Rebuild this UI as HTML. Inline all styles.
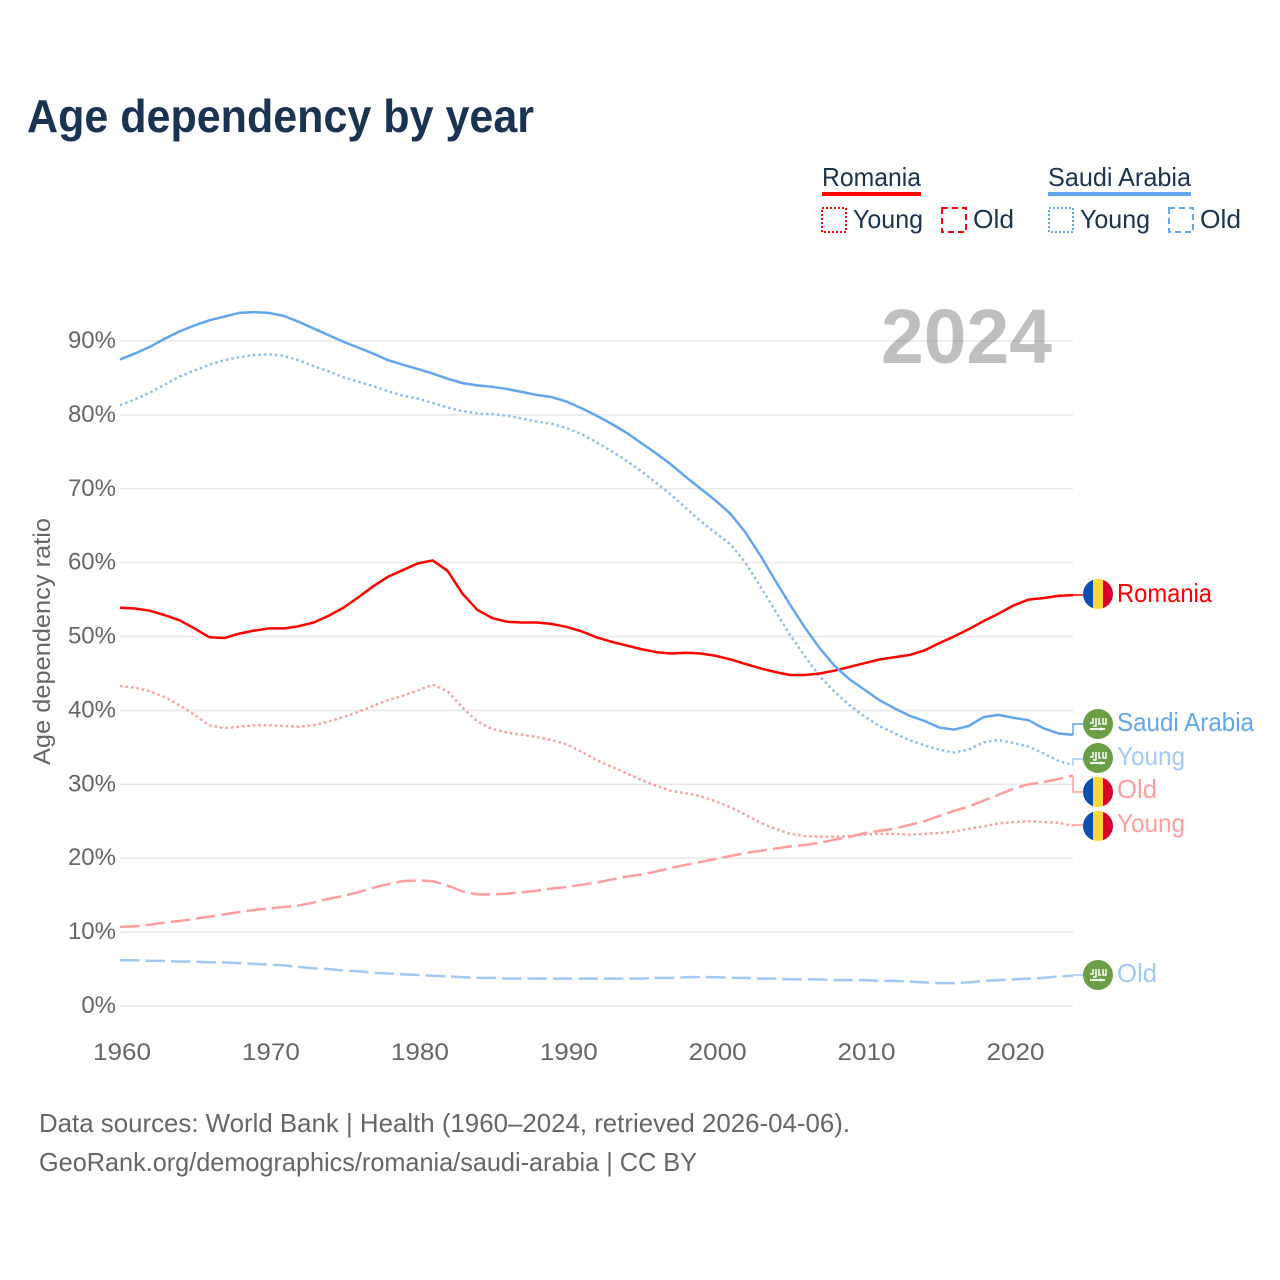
<!DOCTYPE html>
<html lang="en">
<head>
<meta charset="utf-8">
<title>Age dependency by year</title>
<style>
html,body{margin:0;padding:0;background:#fff;}
svg{display:block;}
text{font-family:"Liberation Sans",sans-serif;}
</style>
</head>
<body>
<svg id="chart" xmlns="http://www.w3.org/2000/svg" width="1280" height="1280" viewBox="0 0 1280 1280">
  <rect width="1280" height="1280" fill="#fff"/>
  <text x="27" y="132" font-size="46" font-weight="700" fill="#1a3352" textLength="507" lengthAdjust="spacingAndGlyphs">Age dependency by year</text>

  <g font-size="26" fill="#1a3352">
    <text x="822" y="186" textLength="99" lengthAdjust="spacingAndGlyphs">Romania</text>
    <rect x="822" y="192" width="99" height="4" fill="#ff0000"/>
    <rect x="822" y="208" width="24" height="24" fill="none" stroke="#ff0000" stroke-width="2" stroke-dasharray="2 2"/>
    <text x="853" y="228" textLength="70" lengthAdjust="spacingAndGlyphs">Young</text>
    <rect x="942" y="208" width="24" height="24" fill="none" stroke="#ff0000" stroke-width="2" stroke-dasharray="6 4"/>
    <text x="973" y="228" textLength="41" lengthAdjust="spacingAndGlyphs">Old</text>

    <text x="1048" y="186" textLength="143" lengthAdjust="spacingAndGlyphs">Saudi Arabia</text>
    <rect x="1048" y="192" width="143" height="4" fill="#62a6ee"/>
    <rect x="1049" y="208" width="24" height="24" fill="none" stroke="#62a6ee" stroke-width="2" stroke-dasharray="2 2"/>
    <text x="1080" y="228" textLength="70" lengthAdjust="spacingAndGlyphs">Young</text>
    <rect x="1169" y="208" width="24" height="24" fill="none" stroke="#62a6ee" stroke-width="2" stroke-dasharray="6 4"/>
    <text x="1200" y="228" textLength="41" lengthAdjust="spacingAndGlyphs">Old</text>
  </g>

  <g id="grid"></g>
  <text x="881" y="363" font-size="77" font-weight="700" fill="#808080" fill-opacity="0.5" textLength="171" lengthAdjust="spacingAndGlyphs">2024</text>
  <g id="yticks" font-size="24" fill="#666"></g>
  <g id="xticks" font-size="24" fill="#666"></g>
  <text transform="translate(50,765) rotate(-90)" font-size="24" fill="#666" textLength="247" lengthAdjust="spacingAndGlyphs">Age dependency ratio</text>
  <g id="lines" fill="none"></g>

  <g fill="none" stroke-width="1.5">
    <path d="M1073 595H1083" stroke="#ff0000"/>
    <path d="M1073 735V724H1083" stroke="#62a6ee"/>
    <path d="M1073 765V759H1083" stroke="#a1c9f4"/>
    <path d="M1073 776V792H1083" stroke="#ff9e9e"/>
    <path d="M1073 825H1083" stroke="#ff9e9e"/>
    <path d="M1073 975H1083" stroke="#a1c9f4"/>
  </g>

  <defs>
    <clipPath id="flag-clip"><circle cx="0" cy="0" r="15"/></clipPath>
    <g id="ro-flag">
      <g clip-path="url(#flag-clip)">
        <rect x="-15" y="-15" width="10" height="30" fill="#0a4fb3"/>
        <rect x="-5" y="-15" width="10" height="30" fill="#ffd53a"/>
        <rect x="5" y="-15" width="10" height="30" fill="#d9002c"/>
      </g>
    </g>
    <g id="sa-flag">
      <circle r="15" fill="#6b9f45"/>
      <g fill="none" stroke="#fff" stroke-width="1.5">
        <path d="M-8 -1H-5V-6M-2 -6V2H-5M1 -6V0H3M5 -6V0H8V-6"/>
        <path d="M-8 5H7" stroke-width="1.8"/>
        <path d="M3 3.5V6.5"/>
      </g>
    </g>
  </defs>

  <g font-size="26">
    <use href="#ro-flag" x="1098" y="594"/>
    <text x="1117" y="602" fill="#ff0000" textLength="95" lengthAdjust="spacingAndGlyphs">Romania</text>
    <use href="#sa-flag" x="1098" y="724"/>
    <text x="1117" y="731" fill="#62a6ee" textLength="137" lengthAdjust="spacingAndGlyphs">Saudi Arabia</text>
    <use href="#sa-flag" x="1098" y="758"/>
    <text x="1117" y="765" fill="#a1c9f4" textLength="68" lengthAdjust="spacingAndGlyphs">Young</text>
    <use href="#ro-flag" x="1098" y="792"/>
    <text x="1117" y="798" fill="#ff9e9e" textLength="40" lengthAdjust="spacingAndGlyphs">Old</text>
    <use href="#ro-flag" x="1098" y="826"/>
    <text x="1117" y="832" fill="#ff9e9e" textLength="68" lengthAdjust="spacingAndGlyphs">Young</text>
    <use href="#sa-flag" x="1098" y="975"/>
    <text x="1117" y="982" fill="#a1c9f4" textLength="40" lengthAdjust="spacingAndGlyphs">Old</text>
  </g>

  <g font-size="26" fill="#666">
    <text x="39" y="1132" textLength="811" lengthAdjust="spacingAndGlyphs">Data sources: World Bank | Health (1960–2024, retrieved 2026-04-06).</text>
    <text x="39" y="1171" textLength="658" lengthAdjust="spacingAndGlyphs">GeoRank.org/demographics/romania/saudi-arabia | CC BY</text>
  </g>
</svg>
<script>
const startYear = 1960;
const yTickValues = [0, 10, 20, 30, 40, 50, 60, 70, 80, 90];
const xTickYears = [1960, 1970, 1980, 1990, 2000, 2010, 2020];
const romaniaTotal = [53.9,53.8,53.5,52.9,52.2,51.1,49.9,49.8,50.4,50.8,51.1,51.1,51.4,51.9,52.8,53.9,55.3,56.8,58.1,59.0,59.9,60.3,58.9,55.8,53.6,52.5,52.0,51.9,51.9,51.7,51.3,50.7,49.9,49.3,48.8,48.3,47.9,47.7,47.8,47.7,47.4,46.9,46.3,45.7,45.2,44.8,44.8,45.0,45.4,45.9,46.4,46.9,47.2,47.5,48.1,49.1,50.0,51.0,52.1,53.1,54.2,55.0,55.2,55.5,55.6];
const romaniaYoung = [43.3,43.1,42.6,41.8,40.7,39.4,38.0,37.6,37.8,38.0,38.0,37.9,37.8,38.0,38.5,39.1,39.8,40.6,41.4,42.0,42.7,43.5,42.6,40.4,38.5,37.5,37.0,36.7,36.4,36.0,35.4,34.4,33.3,32.4,31.5,30.6,29.8,29.1,28.8,28.4,27.7,26.9,25.9,24.8,24.0,23.3,23.0,22.9,22.9,23.0,23.2,23.3,23.3,23.2,23.3,23.4,23.6,24.0,24.3,24.7,24.9,25.0,24.9,24.8,24.4];
const romaniaOld = [10.7,10.8,11.0,11.3,11.5,11.8,12.1,12.4,12.7,13.0,13.2,13.4,13.6,14.0,14.5,14.9,15.4,16.0,16.5,16.9,17.0,16.9,16.3,15.5,15.1,15.1,15.2,15.4,15.6,15.9,16.1,16.4,16.7,17.1,17.5,17.8,18.2,18.7,19.1,19.5,19.9,20.3,20.7,21.0,21.3,21.6,21.8,22.1,22.5,22.9,23.4,23.7,24.0,24.5,25.0,25.7,26.4,27.0,27.8,28.6,29.4,30.0,30.3,30.7,31.2];
const saudiTotal = [87.5,88.3,89.2,90.3,91.3,92.1,92.8,93.3,93.8,93.9,93.8,93.4,92.6,91.7,90.8,89.9,89.1,88.3,87.4,86.8,86.2,85.6,84.9,84.3,84.0,83.8,83.5,83.1,82.7,82.4,81.8,80.9,79.9,78.8,77.6,76.2,74.8,73.3,71.6,70.0,68.4,66.6,64.1,61.0,57.6,54.3,51.2,48.4,46.0,44.2,42.8,41.4,40.3,39.3,38.6,37.7,37.4,37.9,39.1,39.4,39.0,38.7,37.6,36.9,36.7];
const saudiYoung = [81.3,82.1,83.0,84.1,85.2,86.0,86.8,87.4,87.8,88.1,88.2,88.0,87.4,86.6,85.9,85.1,84.5,83.9,83.2,82.6,82.2,81.6,81.0,80.5,80.2,80.1,79.9,79.5,79.1,78.8,78.2,77.4,76.3,75.1,73.8,72.4,70.8,69.2,67.4,65.6,64.0,62.5,60.0,56.8,53.5,50.2,47.3,44.6,42.5,40.7,39.2,37.9,36.9,36.0,35.3,34.7,34.3,34.7,35.7,36.0,35.6,35.1,34.2,33.2,32.6];
const saudiOld = [6.2,6.2,6.1,6.1,6.0,6.0,5.9,5.9,5.8,5.7,5.6,5.5,5.3,5.1,5.0,4.8,4.7,4.5,4.4,4.3,4.2,4.1,4.0,3.9,3.8,3.8,3.7,3.7,3.7,3.7,3.7,3.7,3.7,3.7,3.7,3.7,3.8,3.8,3.9,3.9,3.9,3.8,3.8,3.7,3.7,3.6,3.6,3.6,3.5,3.5,3.5,3.4,3.4,3.3,3.2,3.1,3.1,3.2,3.4,3.5,3.6,3.7,3.8,4.0,4.1];

const NS = 'http://www.w3.org/2000/svg';
function xScale(year) { return 120 + (year - 1960) * (953 / 64); }
function yScale(value) { return 1006 - value * (665 / 90); }
function make(tag, parent) {
  const el = document.createElementNS(NS, tag);
  parent.appendChild(el);
  return el;
}

const gridGroup = document.getElementById('grid');
const yGroup = document.getElementById('yticks');
const xGroup = document.getElementById('xticks');
const lineGroup = document.getElementById('lines');

yTickValues.forEach(function (v) {
  const line = make('line', gridGroup);
  
  
  line.setAttribute('x1', 120);
  line.setAttribute('x2', 1073);
  line.setAttribute('y1', yScale(v));
  line.setAttribute('y2', yScale(v));
  line.setAttribute('stroke', '#e8e8e8');
  line.setAttribute('stroke-width', '1.5');
  const label = make('text', yGroup);
  
  
  label.setAttribute('x', 116);
  label.setAttribute('y', yScale(v) + 7);
  label.setAttribute('text-anchor', 'end');
  label.textContent = v + '%';
});

xTickYears.forEach(function (yr) {
  const label = make('text', xGroup);
  
  
  label.setAttribute('x', xScale(yr) - 27);
  label.setAttribute('y', 1060);
  label.setAttribute('textLength', 58);
  label.setAttribute('lengthAdjust', 'spacingAndGlyphs');
  label.textContent = yr;
});

function drawLine(values, color, dash, name) {
  const path = make('path', lineGroup);
  
  
  const d = values.map(function (v, i) {
    return (i ? 'L' : 'M') + xScale(startYear + i).toFixed(2) + ' ' + yScale(v).toFixed(2);
  }).join('');
  path.setAttribute('d', d);
  path.setAttribute('stroke', color);
  path.setAttribute('stroke-width', '2.5');
  path.setAttribute('stroke-linejoin', 'round');
  if (dash) path.setAttribute('stroke-dasharray', dash);
}

drawLine(saudiOld, '#a1c9f4', '19.5 6', 'line-saudi-old');
drawLine(romaniaOld, '#ff9e9e', '19.5 6', 'line-romania-old');
drawLine(romaniaYoung, '#ff9e9e', '2.5 3', 'line-romania-young');
drawLine(saudiYoung, '#8fbdf0', '2.5 3', 'line-saudi-young');
drawLine(romaniaTotal, '#ff0000', '', 'line-romania-total');
drawLine(saudiTotal, '#62a6ee', '', 'line-saudi-total');
</script>
</body>
</html>
